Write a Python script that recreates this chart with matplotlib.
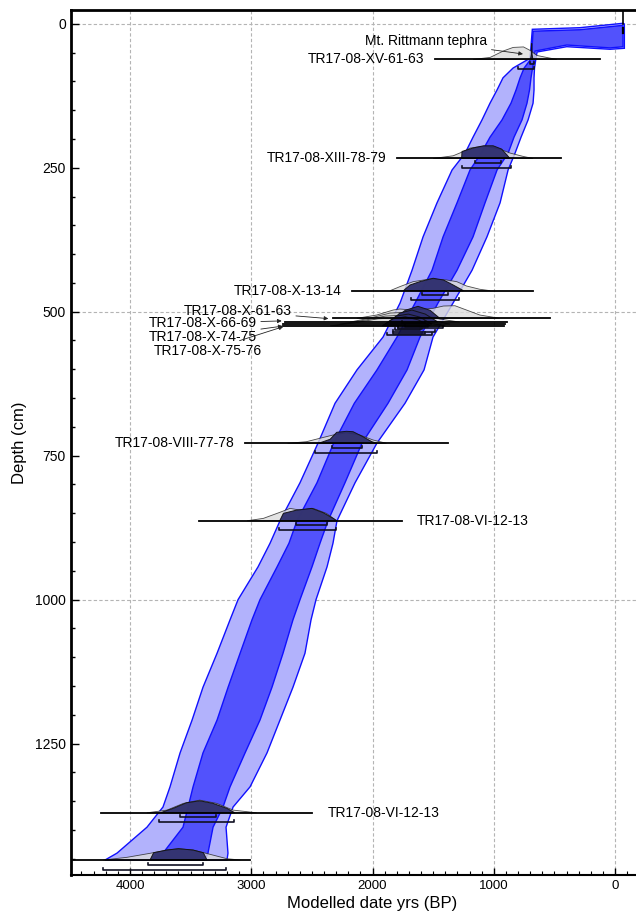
import matplotlib
matplotlib.use("Agg")
import matplotlib.pyplot as plt
from matplotlib.patches import Polygon
from matplotlib.ticker import MultipleLocator
import numpy as np

plt.rcParams['font.family'] = ['Liberation Sans', 'DejaVu Sans']

# age-depth envelope: ages (yrs BP) of the band edges at each depth (cm)
band_depth = [60, 77, 94, 115, 138, 167, 197, 225, 254, 311, 370, 428, 485, 544, 601, 659,
              728, 797, 863, 902, 943, 1000, 1035, 1093, 1152, 1209, 1266, 1325, 1360, 1395, 1440, 1452]
outer_old = [701, 841, 924, 973, 1031, 1097, 1171, 1237, 1344, 1468, 1583, 1674, 1773, 1913, 2128, 2309,
             2449, 2598, 2763, 2845, 2944, 3109, 3175, 3282, 3398, 3488, 3587, 3670, 3728, 3860, 4107, 4206]
inner_old = [689, 750, 783, 816, 858, 932, 1031, 1105, 1196, 1303, 1418, 1509, 1649, 1798, 1963, 2150,
             2320, 2458, 2623, 2689, 2787, 2928, 2994, 3092, 3191, 3282, 3398, 3480, 3521, 3563, 3728, 3810]
inner_young = [664, 680, 693, 705, 726, 767, 833, 882, 973, 1072, 1171, 1303, 1460, 1608, 1715, 1872,
               2086, 2227, 2367, 2433, 2499, 2598, 2656, 2738, 2829, 2928, 3051, 3175, 3233, 3315, 3357, 3381]
outer_young = [652, 664, 668, 668, 676, 717, 775, 825, 882, 948, 1056, 1179, 1336, 1501, 1575, 1732,
               1963, 2144, 2293, 2326, 2375, 2466, 2507, 2557, 2656, 2763, 2870, 3010, 3150, 3208, 3192, 3200]

# near-surface part of the envelope (age, depth outline)
top_outer_age = [682, 289, -64, -77, -77, 41, 398, 643]
top_outer_depth = [9.7, 6.9, -0.7, 0.5, 42.7, 44.4, 39.9, 49.1]
top_inner_age = [676, 289, -58, -66, -66, 41, 398, 660]
top_inner_depth = [13.0, 10.5, 3.0, 3.0, 40.0, 42.0, 37.0, 47.5]

# dated samples
labels = ["TR17-08-XV-61-63", "TR17-08-XIII-78-79", "TR17-08-X-13-14", "TR17-08-X-61-63",
          "TR17-08-X-66-69", "TR17-08-X-74-75", "TR17-08-X-75-76", "TR17-08-VIII-77-78",
          "TR17-08-VI-12-13", "TR17-08-VI-12-13", ""]
sample_depth = [62, 234, 463.5, 511.5, 518, 521.5, 524.5, 728.5, 863, 1370, 1452]
line_old = [1485, 1800, 2170, 2325, 2722, 2736, 2736, 3050, 3435, 4235, 4700]
line_young = [125, 445, 675, 535, 893, 907, 913, 1375, 1760, 2495, 3010]
label_side = ["left", "left", "left", "arrow", "arrow", "arrow", "arrow", "left", "right", "right", "none"]

# unmodelled likelihoods (age, relative height)
lik_age = [
    [1170, 1030, 920, 840, 755, 700, 645, 565, 480],
    [1500, 1335, 1250, 1195, 1140, 1060, 950, 865, 755, 675],
    [1855, 1775, 1665, 1525, 1390, 1305, 1225, 1115, 1030],
    [2130, 1965, 1830, 1775, 1665, 1500, 1415, 1320, 1225, 1115, 950],
    [2185, 2020, 1855, 1690, 1565, 1445, 1280],
    [2270, 2060, 1895, 1730, 1565, 1360],
    [2350, 2145, 1955, 1790, 1610, 1400],
    [2700, 2545, 2435, 2325, 2215, 2105, 1995, 1885],
    [3035, 2900, 2765, 2680, 2600, 2490, 2380, 2295],
    [3860, 3695, 3560, 3425, 3285, 3150, 2955],
    [4220, 4025, 3835, 3695, 3600, 3480, 3340, 3200, 3090],
]
lik_h = [
    [0, 2, 8.5, 12, 12.5, 9, 4, 2, 0],
    [0, 2.7, 7, 10.4, 11.4, 12, 9.4, 5.4, 2, 0],
    [0, 4, 9, 11.7, 10.7, 9, 4.7, 1.4, 0],
    [0, 3.3, 8.3, 9.3, 8.3, 10, 12.3, 12.6, 8.3, 3.3, 0],
    [0, 4, 9, 10, 7, 3, 0],
    [0, 4, 8, 9, 5, 0],
    [0, 3, 7, 8, 4, 0],
    [0, 1.6, 5, 8.3, 10.6, 8.3, 3.3, 0],
    [0, 2.4, 8.4, 12.4, 10.7, 12.4, 7.4, 0],
    [0, 2.7, 9.4, 12.7, 9.4, 2.7, 0],
    [0, 2.7, 6.7, 10, 11.3, 10, 5.7, 1.3, 0],
]
# modelled posteriors
post_age = [
    [697, 690, 687, 684, 677],
    [1265, 1262, 1170, 1085, 1005, 935, 866],
    [1745, 1690, 1610, 1500, 1415, 1335, 1250],
    [1815, 1730, 1625, 1525, 1445],
    [1855, 1775, 1675, 1565, 1460],
    [1895, 1805, 1705, 1610, 1510],
    [1920, 1830, 1730, 1625, 1525],
    [2445, 2350, 2295, 2215, 2160, 2090, 2005, 1965],
    [2765, 2735, 2625, 2500, 2405, 2325, 2295],
    [3750, 3645, 3535, 3425, 3315, 3200, 3135],
    [3835, 3805, 3695, 3600, 3480, 3395, 3365],
]
post_h = [
    [0, 5, 16, 5, 0],
    [0, 7, 10.5, 12.7, 12.7, 9.4, 0],
    [0, 5.7, 9, 12.4, 10.7, 5.7, 0],
    [0, 8, 12, 8, 0],
    [0, 9, 12, 8, 0],
    [0, 8, 10, 7, 0],
    [0, 7, 9, 6, 0],
    [0, 4, 11, 12, 11.6, 7.3, 1.6, 0],
    [0, 7.4, 10.7, 12.4, 8, 2.4, 0],
    [0, 4.4, 10, 12, 9.4, 4.4, 0],
    [0, 7.3, 10, 11.3, 10, 7.3, 0],
]
# 68.2% and 95.4% ranges
range68 = [(701, 668), (1155, 940), (1594, 1380), (1759, 1567), (1732, 1542), (1790, 1592),
           (1814, 1608), (2336, 2089), (2631, 2373), (3587, 3291), (3849, 3395)]
range95 = [(797, 665), (1259, 858), (1682, 1284), (1787, 1416), (1828, 1484), (1833, 1567),
           (1878, 1512), (2474, 1965), (2769, 2301), (3758, 3140), (4220, 3208)]

# label spots for the crowded group (age, depth of text end)
arrow_text_xy = [(2666, 499), (2955, 520), (2955, 544), (2914, 568)]
arrow_tip_xy = [(2364, 512), (2749, 516), (2741, 525), (2736, 526)]

surface_age, surface_depth = -65, 0
tephra_text_xy = (1053, 29.5)
tephra_tip_xy = (759, 52.6)

px = 1 / 0.576  # cm per pixel in depth
prob_scale = px

fig = plt.figure(figsize=(6.36, 9.13), dpi=100)
ax = fig.add_axes([70.7 / 636, 38 / 913, (636 - 70.7) / 636, 865 / 913])
ax.set_xlim(4489, -173)
ax.set_ylim(1478, -23.8)

# grid
for g in [0, 1000, 2000, 3000, 4000]:
    ax.axvline(g, color='#b4b4b4', lw=0.8, ls=(0, (3, 2)), zorder=0)
for g in [0, 500, 1000]:
    ax.axhline(g, color='#b4b4b4', lw=0.8, ls=(0, (3, 2)), zorder=0)

# envelope
outer = np.concatenate([np.column_stack([top_outer_age, top_outer_depth]),
                        np.column_stack([outer_young, band_depth]),
                        np.column_stack([outer_old, band_depth])[::-1]])
inner = np.concatenate([np.column_stack([top_inner_age, top_inner_depth]),
                        np.column_stack([inner_young, band_depth]),
                        np.column_stack([inner_old, band_depth])[::-1]])
ax.add_patch(Polygon(outer, closed=True, facecolor='#b2b2fc', edgecolor='#1010ff', lw=1.0, zorder=1))
ax.add_patch(Polygon(inner, closed=True, facecolor='#5252fc', edgecolor='#1010ff', lw=1.0, zorder=2))

# surface date
ax.plot([surface_age, surface_age], [surface_depth, -30], color='black', lw=1.2, zorder=6)
ax.plot([surface_age, surface_age], [8, 16], color='black', lw=1.6, zorder=6)

tick = 2 * px
for i in range(len(labels)):
    d = sample_depth[i]
    la = np.array(lik_age[i])
    lh = d - np.array(lik_h[i]) * prob_scale
    ax.fill(la, lh, facecolor='#dcdcdc', alpha=0.8, edgecolor='#222222', lw=0.6, zorder=3 + i * 0.01)
    pa = np.array(post_age[i])
    ph = d - np.array(post_h[i]) * prob_scale
    ax.fill(pa, ph, facecolor='#2c2c6c', alpha=0.95, edgecolor='#111111', lw=0.7, zorder=3.2 + i * 0.01)
    ax.plot([line_old[i], line_young[i]], [d, d], color='black', lw=1.3, zorder=4)
    for (a1, a2), off in [(range68[i], 4.5 * px), (range95[i], 9.5 * px)]:
        y = d + off
        ax.plot([a1, a1, a2, a2], [y - tick, y, y, y - tick], color='#111122', lw=1.2, zorder=4)
    if label_side[i] == "left":
        ax.annotate(labels[i], xy=(line_old[i], d), xytext=(-7.5, 0), textcoords='offset points',
                    ha='right', va='center', fontsize=10, zorder=7)
    elif label_side[i] == "right":
        ax.annotate(labels[i], xy=(line_young[i], d), xytext=(11, 0), textcoords='offset points',
                    ha='left', va='center', fontsize=10, zorder=7)

for j, i in enumerate([k for k in range(len(labels)) if label_side[k] == "arrow"]):
    ax.annotate(labels[i], xy=arrow_tip_xy[j], xytext=arrow_text_xy[j], ha='right', va='center',
                fontsize=10, zorder=7,
                arrowprops=dict(arrowstyle='-|>', lw=0.6, color='#222222', mutation_scale=6,
                                shrinkA=1, shrinkB=0))

ax.annotate("Mt. Rittmann tephra", xy=tephra_tip_xy, xytext=tephra_text_xy, ha='right', va='center',
            fontsize=10, zorder=7,
            arrowprops=dict(arrowstyle='-|>', lw=0.6, color='#222222', mutation_scale=6,
                            shrinkA=1, shrinkB=0))

# axes styling
ax.spines['right'].set_visible(False)
ax.spines['left'].set_linewidth(2)
ax.spines['top'].set_linewidth(2)
ax.spines['bottom'].set_linewidth(1.5)
ax.xaxis.set_major_locator(MultipleLocator(1000))
ax.xaxis.set_minor_locator(MultipleLocator(100))
ax.yaxis.set_major_locator(MultipleLocator(250))
ax.yaxis.set_minor_locator(MultipleLocator(50))
ax.tick_params(axis='both', which='both', direction='in', top=False, right=False)
ax.tick_params(axis='y', labelsize=10)
ax.tick_params(axis='x', labelsize=9.5)
ax.tick_params(axis='y', which='major', length=6, width=1)
ax.tick_params(axis='y', which='minor', length=3, width=1)
ax.tick_params(axis='x', which='major', length=5, width=1)
ax.tick_params(axis='x', which='minor', length=3, width=0.8)

ax.set_xlabel('Modelled date yrs (BP)', fontsize=12)
ax.xaxis.set_label_coords(0.533, -0.024)
ax.set_ylabel('Depth (cm)', fontsize=12)
ax.yaxis.set_label_coords(-0.077, 0.5)

fig.savefig('out.png', dpi=100)
